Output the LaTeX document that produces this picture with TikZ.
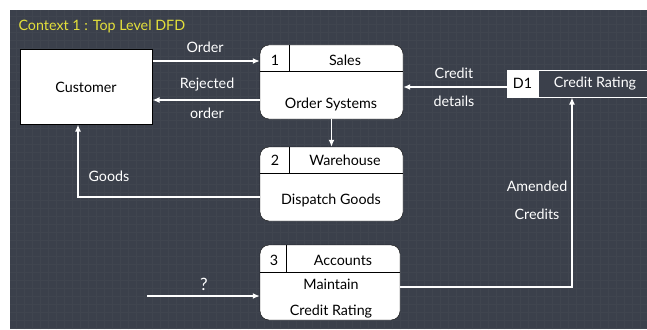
\documentclass[tikz,border=0pt]{standalone}
\usepackage{fontspec}
\setmainfont{Lato}
\usetikzlibrary{arrows.meta}
\definecolor{board}{HTML}{3B404B}
\definecolor{boardgrid}{HTML}{40454F}
\definecolor{titlecol}{HTML}{E4E03A}

\begin{document}
\begin{tikzpicture}[x=1pt,y=-1pt,
  flow/.style={draw=white,line width=1.6pt,-{Latex[length=7pt,width=6pt]}},
  proc/.style={draw=black,fill=white,rounded corners=9pt,minimum width=143pt,minimum height=74pt,inner sep=0pt},
  ent/.style={draw=black,line width=1pt,fill=white,minimum width=132pt,minimum height=74pt},
  lbl/.style={text=white,font=\fontsize{14.3}{16}\selectfont},
  txt/.style={text=black,font=\fontsize{14.3}{16}\selectfont}]

      \useasboundingbox (0,0) rectangle (647,329);

      % Board
      \fill[white] (0,0) rectangle (647,329);
      \fill[board] (10,10) rectangle (647,329);
      \draw[boardgrid,line width=0.3pt,step=8pt] (10,10) grid (647,329);
      \node[anchor=west,text=titlecol,font=\fontsize{14.3}{16}\selectfont] (title) at (15,26) {Context 1 : Top Level DFD};

      % External entity
      \node[ent,txt] (cust) at (86,87) {Customer};

      % Processes
      \node[proc] (p1) at (331.5,82) {};
      \node[proc] (p2) at (331.5,184) {};
      \node[proc,minimum width=140pt,minimum height=75pt] (p3) at (330,282.5) {};
      \draw (p1.west |- 0,71) -- (p1.east |- 0,71);
      \draw (289,45) -- (289,71);
      \draw (p2.west |- 0,173) -- (p2.east |- 0,173);
      \draw (289,147) -- (289,173);
      \draw (p3.west |- 0,272) -- (p3.east |- 0,272);
      \draw (286,245) -- (286,272);

      \node[txt] (n1) at (275,60) {1};
      \node[txt] (s1) at (345,60) {Sales};
      \node[txt] (b1) at (331,104) {Order Systems};
      \node[txt] (n2) at (275,160) {2};
      \node[txt] (s2) at (345,160) {Warehouse};
      \node[txt] (b2) at (331,200) {Dispatch Goods};
      \node[txt] (n3) at (274,260) {3};
      \node[txt] (s3) at (343,260) {Accounts};
      \node[txt] (b3) at (331,284) {Maintain};
      \node[txt] (c3) at (331,312) {Credit Rating};

      % Data store
      \node[draw=white,line width=1pt,fill=board,minimum width=117pt,minimum height=27pt,inner sep=0pt] (store) at (596.5,83.5) {};
      \node[draw=white,line width=1pt,fill=white,minimum width=31pt,minimum height=27pt,inner sep=0pt,txt] (d1) at (522.5,83.5) {D1};
      \node[lbl] (crate) at (595,84) {Credit Rating};

      % Flows
      \coordinate (q) at (147,296);
      \draw[flow] (cust.east |- 0,61) -- (p1.west |- 0,61);
      \draw[flow] (p1.west |- 0,100) -- (cust.east |- 0,100);
      \draw[flow] (p1.south) -- (p2.north);
      \draw[flow] (p2.west |- 0,197) -| ([xshift=-8pt]cust.south);
      \draw[flow] (d1.west |- 0,87) -- (p1.east |- 0,87);
      \draw[flow] (q) -- (p3.west |- q);
      \draw[flow] (p3.east |- 0,287) -| ([xshift=-24.5pt]store.south);

      % Flow labels
      \node[lbl] (lorder) at (205,47) {Order};
      \node[lbl] (lrej) at (207,85) {Rejected};
      \node[lbl] (lrej2) at (207,113) {order};
      \node[lbl] (lgoods) at (109,176) {Goods};
      \node[lbl] (lcred) at (454,73) {Credit};
      \node[lbl] (lcred2) at (454,101) {details};
      \node[lbl,font=\fontsize{17}{19}\selectfont] (lq) at (204,284) {?};
      \node[lbl] (lam) at (537,186) {Amended};
      \node[lbl] (lam2) at (537,214) {Credits};

    \end{tikzpicture}
\end{document}
